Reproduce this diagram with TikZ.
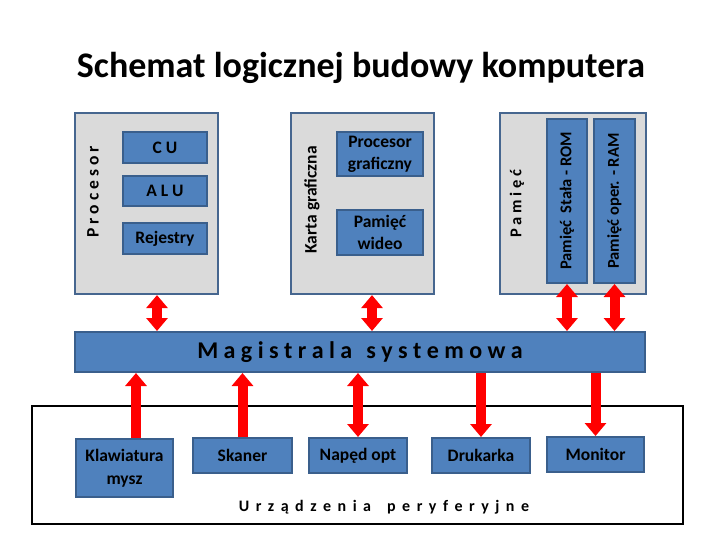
\documentclass[tikz,border=0pt]{standalone}
\usepackage{fontspec}
\setmainfont{Carlito}
\usetikzlibrary{arrows.meta}
\definecolor{unitblue}{HTML}{4F81BD}
\definecolor{unitedge}{HTML}{3A5F8C}
\definecolor{contgray}{HTML}{DADADA}
\definecolor{contedge}{HTML}{46668F}
\tikzset{
    container/.style={rectangle, draw=contedge, line width=2.2pt, fill=contgray, inner sep=0pt},
    unit/.style={rectangle, draw=unitedge, line width=2pt, fill=unitblue, inner sep=0pt,
        align=center, font=\bfseries\fontsize{17.5}{22}\selectfont},
    sidelabel/.style={rotate=90, inner sep=0pt, font=\bfseries\fontsize{17.5}{20}\selectfont},
    unitlabel/.style={rotate=90, inner sep=0pt, font=\bfseries\fontsize{16.5}{18}\selectfont},
    link/.style={line width=10pt, draw=red, >={Triangle[width=21pt,length=13pt]}}
}

\begin{document}
\begin{tikzpicture}[x=1pt,y=-1pt]
    \useasboundingbox (0,0) rectangle (720,540);
    \node[font=\bfseries\fontsize{36}{40}\selectfont] (title) at (361,68) {Schemat logicznej budowy komputera};
    % procesor
    \node[container, minimum width=143pt, minimum height=181pt] (proc) at (146.5,203.5) {};
    \node[sidelabel] (proclabel) at (93,192) {P r o c e s o r};
    \node[unit, minimum width=84pt, minimum height=31pt] (cu) at (165,147.5) {C U};
    \node[unit, minimum width=84pt, minimum height=30pt] (alu) at (165,191) {A L U};
    \node[unit, minimum width=84pt, minimum height=31pt] (reg) at (165,238.5) {Rejestry};
    % karta graficzna
    \node[container, minimum width=143pt, minimum height=181pt] (gpu) at (362.5,203.5) {};
    \node[sidelabel] (gpulabel) at (312,200) {Karta graficzna};
    \node[unit, minimum width=86pt, minimum height=44pt] (gproc) at (380,154) {Procesor\\graficzny};
    \node[unit, minimum width=86pt, minimum height=45pt] (vram) at (380,232.5) {Pamięć\\wideo};
    % pamiec
    \node[container, minimum width=146pt, minimum height=181pt] (mem) at (573,203.5) {};
    \node[sidelabel, font=\bfseries\fontsize{16.5}{20}\selectfont] (memlabel) at (517,203.5) {P a m i ę ć};
    \node[unit, minimum width=40pt, minimum height=164pt] (rom) at (567,201) {};
    \node[unitlabel] (romlabel) at (rom) {Pamięć\ \ Stała - ROM};
    \node[unit, minimum width=41pt, minimum height=164pt] (ram) at (614.5,201) {};
    \node[unitlabel] (ramlabel) at (ram) {Pamięć oper. - RAM};
    % magistrala
    \node[unit, minimum width=570pt, minimum height=40pt, font=\bfseries\fontsize{24}{26}\selectfont] (bus) at (360,352)
        {M a g i s t r a l a\hspace{14pt}s y s t e m o w a};
    % urzadzenia peryferyjne
    \node[rectangle, draw=black, line width=2pt, fill=white, minimum width=651pt, minimum height=118pt] (periph) at (357.5,465) {};
    \node[font=\bfseries\fontsize{16}{18}\selectfont] (perlabel) at (384,507)
        {\spaceskip=6.5pt\relax U r z ą d z e n i a\hspace{16pt}p e r y f e r y j n e};
    \node[unit, minimum width=97pt, minimum height=58pt, font=\bfseries\fontsize{17.5}{23}\selectfont] (keyb) at (124.5,468) {Klawiatura\\mysz};
    \node[unit, minimum width=99pt, minimum height=35pt] (scan) at (242.5,455.5) {Skaner};
    \node[unit, minimum width=98pt, minimum height=35pt] (odd) at (358,455.5) {Napęd opt};
    \node[unit, minimum width=98pt, minimum height=35pt] (print) at (481,455.5) {Drukarka};
    \node[unit, minimum width=97pt, minimum height=35pt] (mon) at (595.5,454.5) {Monitor};
    % polaczenia
    \draw[link,<->] ([xshift=10.5pt]proc.south) -- ([xshift=10.5pt]proc.south |- bus.north);
    \draw[link,<->] ([xshift=9.5pt]gpu.south) -- ([xshift=9.5pt]gpu.south |- bus.north);
    \draw[link,<->] (rom.south) -- (rom.south |- bus.north);
    \draw[link,<->] (ram.south) -- (ram.south |- bus.north);
    \draw[link,->] ([xshift=11.5pt]keyb.north) -- ([xshift=11.5pt]keyb.north |- bus.south);
    \draw[link,->] (scan.north) -- (scan.north |- bus.south);
    \draw[link,<->] (odd.north) -- (odd.north |- bus.south);
    \draw[link,->] (print.north |- bus.south) -- (print.north);
    \draw[link,->] (mon.north |- bus.south) -- (mon.north);
\end{tikzpicture}
\end{document}
